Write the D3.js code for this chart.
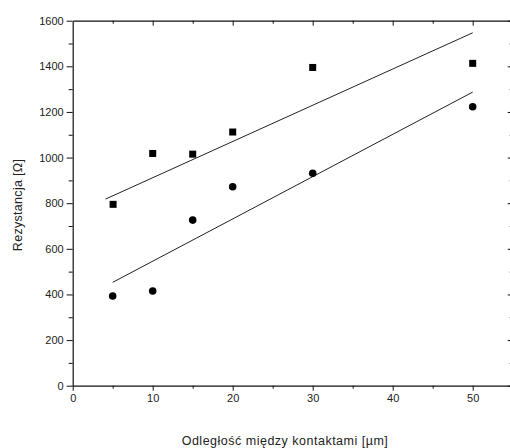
<!DOCTYPE html>
<html><head><meta charset="utf-8">
<script src="https://cdn.jsdelivr.net/npm/d3@7"></script>
<style>body{margin:0;background:#fff}svg{display:block}text{font-family:"Liberation Sans",Arial,sans-serif;fill:#222}</style>
</head><body><svg id="c" width="510" height="448"></svg>
<script>
const distances = [5, 10, 15, 20, 30, 50];
const squareValues = [795, 1018, 1015, 1112, 1395, 1413];
const circleValues = [393, 415, 726, 872, 931, 1223];
const squareFit = [[4.1, 818], [50, 1547]];
const circleFit = [[5, 453], [50, 1287]];
const xTicks = [0, 10, 20, 30, 40, 50];
const yTicks = [0, 200, 400, 600, 800, 1000, 1200, 1400, 1600];
const xLabel = "Odległość między kontaktami [µm]";
const yLabel = "Rezystancja [Ω]";

const svg = d3.select("#c");
const x = d3.scaleLinear().domain([0, 55]).range([72.7, 512.7]);
const y = d3.scaleLinear().domain([0, 1600]).range([385.7, 20.7]);
const fmt = d3.format("d");

const g = svg.append("g");
const xMinor = d3.range(5, 55, 10);
const yMinor = d3.range(100, 1600, 200);

function styleAxis(sel){
  sel.select(".domain").attr("stroke","#111").attr("stroke-width",1.2);
  sel.selectAll(".tick line").attr("stroke","#111").attr("stroke-width",1);
  sel.selectAll(".tick text").attr("font-size","11px").attr("fill","#222").attr("font-family","Liberation Sans, Arial, sans-serif");
}
function minor(s){ s.select(".domain").remove(); s.selectAll("line").attr("stroke","#111"); }
// bottom
const bx = g.append("g").attr("transform",`translate(0,${y(0)})`)
  .call(d3.axisBottom(x).tickValues(xTicks).tickFormat(fmt).tickSize(5).tickSizeOuter(0).tickPadding(4));
styleAxis(bx);
g.append("g").attr("transform",`translate(0,${y(0)})`)
  .call(d3.axisBottom(x).tickValues(xMinor).tickSize(3).tickFormat("")).call(minor);
// top
const tx = g.append("g").attr("transform",`translate(0,${y(1600)})`)
  .call(d3.axisBottom(x).tickValues(xTicks.filter(d=>d>0)).tickSize(5).tickSizeOuter(0).tickFormat(""));
styleAxis(tx);
g.append("g").attr("transform",`translate(0,${y(1600)})`)
  .call(d3.axisBottom(x).tickValues(xMinor).tickSize(3).tickFormat("")).call(minor);
// left
const ly = g.append("g").attr("transform",`translate(${x(0)},0)`)
  .call(d3.axisLeft(y).tickValues(yTicks).tickFormat(fmt).tickSize(6).tickSizeOuter(0).tickPadding(3));
styleAxis(ly);
g.append("g").attr("transform",`translate(${x(0)},0)`)
  .call(d3.axisLeft(y).tickValues(yMinor).tickSize(4).tickFormat("")).call(minor);
// right
const ry = g.append("g").attr("transform",`translate(${x(55)},0)`)
  .call(d3.axisLeft(y).tickValues(yTicks).tickSize(5).tickSizeOuter(0).tickFormat(""));
styleAxis(ry);
g.append("g").attr("transform",`translate(${x(55)},0)`)
  .call(d3.axisLeft(y).tickValues(yMinor).tickSize(3).tickFormat("")).call(minor);

// fit lines
const line = d3.line().x(d=>x(d[0])).y(d=>y(d[1]));
[squareFit, circleFit].forEach(f=>{
  g.append("path").attr("d", line(f)).attr("fill","none").attr("stroke","#222").attr("stroke-width",1);
});

// points
g.selectAll("rect.sq").data(distances).enter().append("rect").attr("class","sq")
  .attr("x",(d,i)=>x(d)-3.5+(i===0?0.4:0)).attr("y",(d,i)=>y(squareValues[i])-3.5)
  .attr("width",7).attr("height",7).attr("fill","#000");
g.selectAll("circle.ci").data(distances).enter().append("circle").attr("class","ci")
  .attr("cx",d=>x(d)).attr("cy",(d,i)=>y(circleValues[i])).attr("r",3.8).attr("fill","#000");

// labels
svg.append("text").attr("x",285).attr("y",445).attr("text-anchor","middle")
  .attr("font-size","12.5px").attr("letter-spacing","0.5px").text(xLabel);
svg.append("text").attr("transform","translate(22,205) rotate(-90)").attr("text-anchor","middle")
  .attr("font-size","12.5px").attr("letter-spacing","0.3px").text(yLabel);
</script></body></html>
